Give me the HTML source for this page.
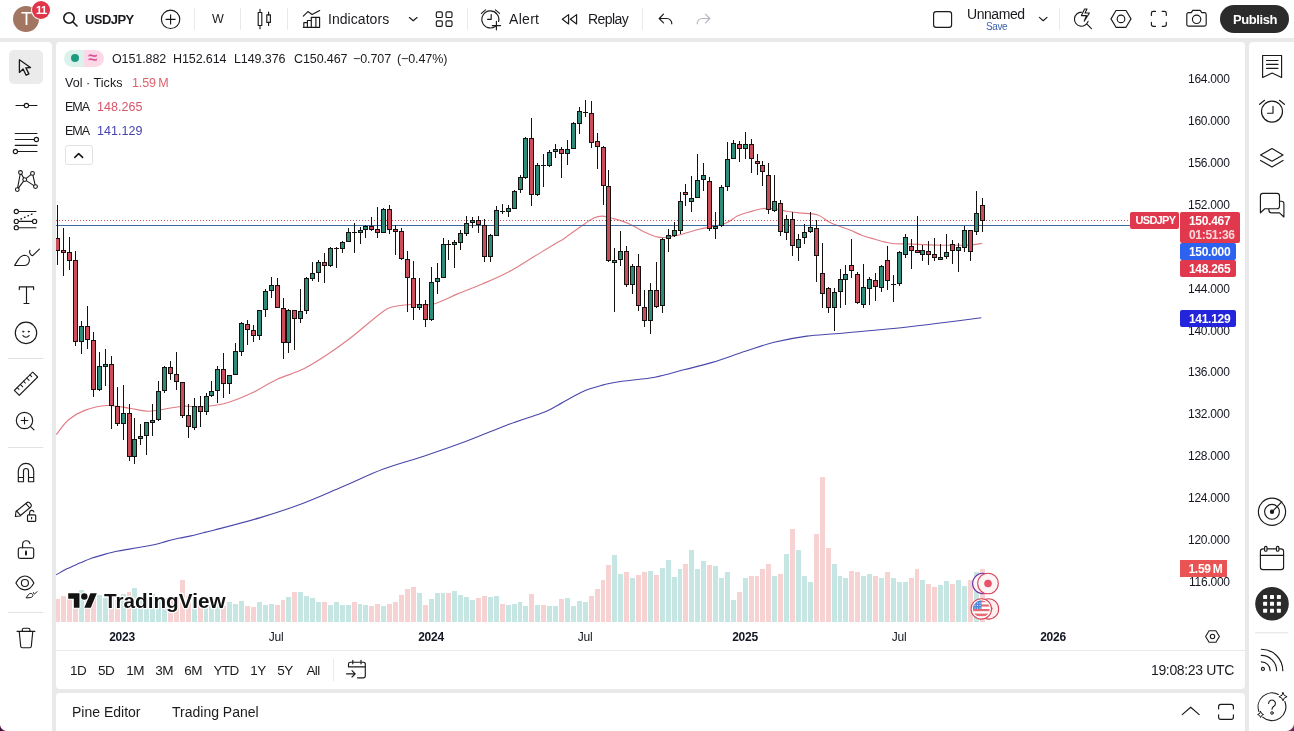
<!DOCTYPE html>
<html><head><meta charset="utf-8">
<style>
*{box-sizing:border-box;margin:0;padding:0}
html,body{width:1294px;height:731px;overflow:hidden;background:#e9e9ea;font-family:"Liberation Sans",sans-serif;color:#1b1b1f}
.abs{position:absolute}
#top{left:0;top:0;width:1294px;height:38px;background:#fff}
#left{left:0;top:42px;width:52px;height:689px;background:#fff;border-top-right-radius:4px}
#right{left:1249px;top:42px;width:45px;height:689px;background:#fff;border-top-left-radius:4px}
#chart{left:56px;top:42px;width:1189px;height:608px;background:#fff;border-radius:4px 4px 0 0}
#range{left:56px;top:650px;width:1189px;height:39px;background:#fff;border-top:1px solid #e9e9ea;border-radius:0 0 4px 4px}
#bottom{left:56px;top:693px;width:1189px;height:38px;background:#fff;border-radius:4px 4px 0 0}
.t{position:absolute;white-space:nowrap;line-height:1}
svg{position:absolute;left:0;top:0;overflow:visible}
</style></head><body>
<div id="top" class="abs"></div>
<div id="left" class="abs"></div>
<div id="right" class="abs"></div>
<div id="chart" class="abs"></div>
<div id="range" class="abs"></div>
<div id="bottom" class="abs"></div>
<!--CHARTSVG-->
<svg id="chartsvg" width="1294" height="731" viewBox="0 0 1294 731">
<defs><clipPath id="cp"><rect x="56" y="42" width="1124" height="580"/></clipPath></defs>
<g clip-path="url(#cp)" shape-rendering="crispEdges">
<rect x="55" y="599" width="5" height="23" fill="#f7d2d2"/>
<rect x="61" y="596" width="5" height="26" fill="#f7d2d2"/>
<rect x="67" y="599" width="5" height="23" fill="#f7d2d2"/>
<rect x="73" y="594" width="5" height="28" fill="#f7d2d2"/>
<rect x="79" y="590" width="5" height="32" fill="#c6e6e3"/>
<rect x="85" y="598" width="5" height="24" fill="#f7d2d2"/>
<rect x="91" y="595" width="5" height="27" fill="#f7d2d2"/>
<rect x="97" y="595" width="5" height="27" fill="#c6e6e3"/>
<rect x="103" y="598" width="5" height="24" fill="#c6e6e3"/>
<rect x="109" y="596" width="5" height="26" fill="#f7d2d2"/>
<rect x="115" y="600" width="5" height="22" fill="#f7d2d2"/>
<rect x="121" y="594" width="5" height="28" fill="#c6e6e3"/>
<rect x="127" y="592" width="4" height="30" fill="#f7d2d2"/>
<rect x="132" y="588" width="5" height="34" fill="#c6e6e3"/>
<rect x="138" y="600" width="5" height="22" fill="#c6e6e3"/>
<rect x="144" y="600" width="5" height="22" fill="#c6e6e3"/>
<rect x="150" y="594" width="5" height="28" fill="#c6e6e3"/>
<rect x="156" y="596" width="5" height="26" fill="#c6e6e3"/>
<rect x="162" y="598" width="5" height="24" fill="#c6e6e3"/>
<rect x="168" y="600" width="5" height="22" fill="#f7d2d2"/>
<rect x="174" y="598" width="5" height="24" fill="#f7d2d2"/>
<rect x="180" y="580" width="5" height="42" fill="#f7d2d2"/>
<rect x="186" y="596" width="5" height="26" fill="#f7d2d2"/>
<rect x="192" y="600" width="5" height="22" fill="#c6e6e3"/>
<rect x="198" y="602" width="5" height="20" fill="#f7d2d2"/>
<rect x="204" y="602" width="4" height="20" fill="#c6e6e3"/>
<rect x="209" y="603" width="5" height="19" fill="#c6e6e3"/>
<rect x="215" y="602" width="5" height="20" fill="#c6e6e3"/>
<rect x="221" y="606" width="5" height="16" fill="#f7d2d2"/>
<rect x="227" y="602" width="5" height="20" fill="#c6e6e3"/>
<rect x="233" y="604" width="5" height="18" fill="#c6e6e3"/>
<rect x="239" y="601" width="5" height="21" fill="#c6e6e3"/>
<rect x="245" y="606" width="5" height="16" fill="#f7d2d2"/>
<rect x="251" y="607" width="5" height="15" fill="#f7d2d2"/>
<rect x="257" y="602" width="5" height="20" fill="#c6e6e3"/>
<rect x="263" y="605" width="5" height="17" fill="#c6e6e3"/>
<rect x="269" y="604" width="5" height="18" fill="#c6e6e3"/>
<rect x="275" y="605" width="5" height="17" fill="#f7d2d2"/>
<rect x="281" y="600" width="4" height="22" fill="#f7d2d2"/>
<rect x="286" y="597" width="5" height="25" fill="#c6e6e3"/>
<rect x="292" y="592" width="5" height="30" fill="#f7d2d2"/>
<rect x="298" y="592" width="5" height="30" fill="#c6e6e3"/>
<rect x="304" y="596" width="5" height="26" fill="#c6e6e3"/>
<rect x="310" y="598" width="5" height="24" fill="#c6e6e3"/>
<rect x="316" y="602" width="5" height="20" fill="#c6e6e3"/>
<rect x="322" y="602" width="5" height="20" fill="#f7d2d2"/>
<rect x="328" y="605" width="5" height="17" fill="#c6e6e3"/>
<rect x="334" y="602" width="5" height="20" fill="#c6e6e3"/>
<rect x="340" y="605" width="5" height="17" fill="#c6e6e3"/>
<rect x="346" y="605" width="5" height="17" fill="#c6e6e3"/>
<rect x="352" y="602" width="5" height="20" fill="#f7d2d2"/>
<rect x="358" y="604" width="4" height="18" fill="#c6e6e3"/>
<rect x="363" y="605" width="5" height="17" fill="#c6e6e3"/>
<rect x="369" y="606" width="5" height="16" fill="#f7d2d2"/>
<rect x="375" y="604" width="5" height="18" fill="#f7d2d2"/>
<rect x="381" y="606" width="5" height="16" fill="#c6e6e3"/>
<rect x="387" y="604" width="5" height="18" fill="#f7d2d2"/>
<rect x="393" y="602" width="5" height="20" fill="#f7d2d2"/>
<rect x="399" y="595" width="5" height="27" fill="#f7d2d2"/>
<rect x="405" y="589" width="5" height="33" fill="#f7d2d2"/>
<rect x="411" y="587" width="5" height="35" fill="#f7d2d2"/>
<rect x="417" y="593" width="5" height="29" fill="#c6e6e3"/>
<rect x="423" y="605" width="5" height="17" fill="#f7d2d2"/>
<rect x="429" y="599" width="5" height="23" fill="#c6e6e3"/>
<rect x="435" y="593" width="5" height="29" fill="#c6e6e3"/>
<rect x="441" y="593" width="4" height="29" fill="#c6e6e3"/>
<rect x="446" y="593" width="5" height="29" fill="#f7d2d2"/>
<rect x="452" y="591" width="5" height="31" fill="#c6e6e3"/>
<rect x="458" y="595" width="5" height="27" fill="#c6e6e3"/>
<rect x="464" y="597" width="5" height="25" fill="#c6e6e3"/>
<rect x="470" y="600" width="5" height="22" fill="#c6e6e3"/>
<rect x="476" y="598" width="5" height="24" fill="#f7d2d2"/>
<rect x="482" y="596" width="5" height="26" fill="#f7d2d2"/>
<rect x="488" y="597" width="5" height="25" fill="#c6e6e3"/>
<rect x="494" y="596" width="5" height="26" fill="#c6e6e3"/>
<rect x="500" y="604" width="5" height="18" fill="#f7d2d2"/>
<rect x="506" y="605" width="5" height="17" fill="#c6e6e3"/>
<rect x="512" y="604" width="5" height="18" fill="#c6e6e3"/>
<rect x="518" y="602" width="4" height="20" fill="#c6e6e3"/>
<rect x="523" y="606" width="5" height="16" fill="#c6e6e3"/>
<rect x="529" y="594" width="5" height="28" fill="#f7d2d2"/>
<rect x="535" y="605" width="5" height="17" fill="#c6e6e3"/>
<rect x="541" y="605" width="5" height="17" fill="#f7d2d2"/>
<rect x="547" y="606" width="5" height="16" fill="#c6e6e3"/>
<rect x="553" y="606" width="5" height="16" fill="#c6e6e3"/>
<rect x="559" y="599" width="5" height="23" fill="#f7d2d2"/>
<rect x="565" y="598" width="5" height="24" fill="#c6e6e3"/>
<rect x="571" y="606" width="5" height="16" fill="#c6e6e3"/>
<rect x="577" y="601" width="5" height="21" fill="#c6e6e3"/>
<rect x="583" y="602" width="5" height="20" fill="#c6e6e3"/>
<rect x="589" y="596" width="5" height="26" fill="#f7d2d2"/>
<rect x="595" y="589" width="5" height="33" fill="#f7d2d2"/>
<rect x="601" y="580" width="4" height="42" fill="#f7d2d2"/>
<rect x="606" y="565" width="5" height="57" fill="#f7d2d2"/>
<rect x="612" y="555" width="5" height="67" fill="#c6e6e3"/>
<rect x="618" y="574" width="5" height="48" fill="#c6e6e3"/>
<rect x="624" y="572" width="5" height="50" fill="#f7d2d2"/>
<rect x="630" y="578" width="5" height="44" fill="#c6e6e3"/>
<rect x="636" y="575" width="5" height="47" fill="#f7d2d2"/>
<rect x="642" y="572" width="5" height="50" fill="#f7d2d2"/>
<rect x="648" y="571" width="5" height="51" fill="#c6e6e3"/>
<rect x="654" y="575" width="5" height="47" fill="#f7d2d2"/>
<rect x="660" y="568" width="5" height="54" fill="#c6e6e3"/>
<rect x="666" y="560" width="5" height="62" fill="#c6e6e3"/>
<rect x="672" y="577" width="5" height="45" fill="#c6e6e3"/>
<rect x="678" y="569" width="4" height="53" fill="#c6e6e3"/>
<rect x="683" y="564" width="5" height="58" fill="#f7d2d2"/>
<rect x="689" y="550" width="5" height="72" fill="#c6e6e3"/>
<rect x="695" y="569" width="5" height="53" fill="#c6e6e3"/>
<rect x="701" y="561" width="5" height="61" fill="#c6e6e3"/>
<rect x="707" y="565" width="5" height="57" fill="#f7d2d2"/>
<rect x="713" y="566" width="5" height="56" fill="#c6e6e3"/>
<rect x="719" y="578" width="5" height="44" fill="#c6e6e3"/>
<rect x="725" y="572" width="5" height="50" fill="#c6e6e3"/>
<rect x="731" y="600" width="5" height="22" fill="#c6e6e3"/>
<rect x="737" y="592" width="5" height="30" fill="#f7d2d2"/>
<rect x="743" y="578" width="5" height="44" fill="#c6e6e3"/>
<rect x="749" y="576" width="5" height="46" fill="#f7d2d2"/>
<rect x="755" y="576" width="4" height="46" fill="#f7d2d2"/>
<rect x="760" y="569" width="5" height="53" fill="#f7d2d2"/>
<rect x="766" y="564" width="5" height="58" fill="#f7d2d2"/>
<rect x="772" y="576" width="5" height="46" fill="#c6e6e3"/>
<rect x="778" y="574" width="5" height="48" fill="#f7d2d2"/>
<rect x="784" y="554" width="5" height="68" fill="#c6e6e3"/>
<rect x="790" y="529" width="5" height="93" fill="#f7d2d2"/>
<rect x="796" y="550" width="5" height="72" fill="#c6e6e3"/>
<rect x="802" y="576" width="5" height="46" fill="#c6e6e3"/>
<rect x="808" y="582" width="5" height="40" fill="#c6e6e3"/>
<rect x="814" y="534" width="5" height="88" fill="#f7d2d2"/>
<rect x="820" y="477" width="5" height="145" fill="#f7d2d2"/>
<rect x="826" y="548" width="5" height="74" fill="#f7d2d2"/>
<rect x="832" y="564" width="5" height="58" fill="#c6e6e3"/>
<rect x="838" y="576" width="4" height="46" fill="#c6e6e3"/>
<rect x="843" y="578" width="5" height="44" fill="#c6e6e3"/>
<rect x="849" y="571" width="5" height="51" fill="#f7d2d2"/>
<rect x="855" y="572" width="5" height="50" fill="#f7d2d2"/>
<rect x="861" y="576" width="5" height="46" fill="#c6e6e3"/>
<rect x="867" y="574" width="5" height="48" fill="#c6e6e3"/>
<rect x="873" y="576" width="5" height="46" fill="#f7d2d2"/>
<rect x="879" y="578" width="5" height="44" fill="#c6e6e3"/>
<rect x="885" y="572" width="5" height="50" fill="#f7d2d2"/>
<rect x="891" y="578" width="5" height="44" fill="#c6e6e3"/>
<rect x="897" y="582" width="5" height="40" fill="#c6e6e3"/>
<rect x="903" y="582" width="5" height="40" fill="#c6e6e3"/>
<rect x="909" y="578" width="5" height="44" fill="#f7d2d2"/>
<rect x="915" y="569" width="4" height="53" fill="#f7d2d2"/>
<rect x="920" y="580" width="5" height="42" fill="#c6e6e3"/>
<rect x="926" y="584" width="5" height="38" fill="#f7d2d2"/>
<rect x="932" y="587" width="5" height="35" fill="#f7d2d2"/>
<rect x="938" y="585" width="5" height="37" fill="#c6e6e3"/>
<rect x="944" y="581" width="5" height="41" fill="#c6e6e3"/>
<rect x="950" y="584" width="5" height="38" fill="#f7d2d2"/>
<rect x="956" y="580" width="5" height="42" fill="#c6e6e3"/>
<rect x="962" y="586" width="5" height="36" fill="#c6e6e3"/>
<rect x="968" y="580" width="5" height="42" fill="#f7d2d2"/>
<rect x="974" y="572" width="5" height="50" fill="#c6e6e3"/>
<rect x="980" y="569" width="5" height="53" fill="#f7d2d2"/>
</g>
<g clip-path="url(#cp)">
<path d="M56.2 574.8 C58.1 573.8 63.5 570.5 67.4 568.6 C71.3 566.7 75.6 564.9 79.7 563.1 C83.8 561.4 88.0 559.6 92.1 558.1 C96.2 556.6 100.4 555.5 104.5 554.4 C108.6 553.3 112.7 552.2 116.8 551.3 C120.9 550.4 125.1 549.8 129.2 549.1 C133.3 548.4 137.5 547.7 141.6 547.0 C145.7 546.3 149.8 545.7 153.9 544.8 C158.0 543.9 162.2 542.5 166.3 541.4 C170.4 540.3 174.5 539.2 178.6 538.3 C182.7 537.4 186.9 536.8 191.0 535.9 C195.1 535.0 199.5 533.8 203.4 532.8 C207.3 531.8 205.0 532.5 214.5 530.0 C224.0 527.5 245.8 521.9 260.3 517.6 C274.8 513.3 287.6 509.1 301.3 504.0 C315.0 498.9 328.7 492.6 342.4 486.8 C356.1 481.0 369.7 474.2 383.4 469.1 C397.1 464.0 410.8 460.6 424.5 456.0 C438.2 451.4 451.8 446.7 465.5 441.6 C479.2 436.5 494.2 429.9 506.6 425.2 C519.0 420.5 532.1 416.6 540.0 413.7 C547.9 410.8 547.0 411.1 553.8 407.5 C560.6 403.9 573.0 396.1 581.0 392.4 C589.0 388.7 594.8 387.2 601.6 385.4 C608.5 383.5 613.2 382.7 622.1 381.3 C631.0 379.9 644.6 379.1 654.9 377.2 C665.2 375.3 674.1 372.3 683.7 369.8 C693.3 367.3 702.1 365.5 712.4 362.4 C722.7 359.3 735.0 354.6 745.3 351.3 C755.6 348.0 763.8 344.8 774.0 342.3 C784.2 339.8 796.5 337.5 806.8 336.1 C817.1 334.7 825.3 334.6 835.6 333.7 C845.9 332.8 856.1 332.0 868.4 330.8 C880.7 329.6 895.8 328.2 909.5 326.7 C923.2 325.2 938.5 323.3 950.5 321.8 C962.5 320.3 976.2 318.4 981.3 317.7" fill="none" stroke="#4846aa" stroke-width="1.1" stroke-linejoin="round"/>
<path d="M56.2 434.7 C58.3 432.2 63.8 423.9 68.6 419.8 C73.3 415.8 78.3 412.8 84.7 410.4 C91.1 408.0 99.5 405.9 106.9 405.5 C114.3 405.1 122.2 407.2 129.2 408.2 C136.2 409.1 142.8 411.1 149.0 411.2 C155.2 411.3 160.5 409.5 166.3 408.7 C172.1 407.9 177.4 406.5 183.6 406.2 C189.8 405.9 196.0 407.3 203.4 406.7 C210.8 406.1 219.9 404.9 228.1 402.5 C236.3 400.1 244.6 396.5 252.8 392.6 C261.1 388.7 269.4 382.8 277.6 379.0 C285.9 375.2 294.1 373.6 302.3 369.6 C310.5 365.6 318.8 360.2 327.0 354.8 C335.2 349.4 342.3 344.3 351.7 337.0 C361.1 329.7 376.1 316.3 383.4 311.2 C390.7 306.1 390.8 307.3 395.7 306.2 C400.6 305.1 406.8 304.8 413.0 304.5 C419.2 304.2 425.4 306.0 432.8 304.2 C440.2 302.4 449.4 297.3 457.6 293.9 C465.9 290.5 474.1 287.5 482.3 284.0 C490.5 280.5 498.8 277.1 507.0 272.8 C515.2 268.5 523.9 262.7 531.7 258.0 C539.5 253.3 548.6 247.7 554.0 244.4 C559.4 241.1 559.6 241.5 564.2 238.4 C568.8 235.3 576.5 229.4 581.5 226.0 C586.5 222.6 590.4 219.8 593.9 218.1 C597.4 216.4 599.2 216.0 602.5 216.1 C605.8 216.2 609.3 217.4 613.6 218.6 C617.9 219.8 623.5 221.4 628.5 223.5 C633.5 225.6 638.4 229.1 643.3 231.4 C648.2 233.7 654.0 236.2 658.1 237.1 C662.2 238.0 664.3 237.5 668.0 237.1 C671.7 236.7 675.0 236.0 680.4 234.7 C685.8 233.3 692.8 230.9 700.2 229.0 C707.6 227.1 718.7 225.7 724.9 223.5 C731.1 221.3 733.2 218.0 737.3 216.1 C741.4 214.2 745.5 213.1 749.6 211.9 C753.7 210.7 757.9 209.2 762.0 208.7 C766.1 208.2 770.3 208.3 774.4 208.7 C778.5 209.1 782.6 210.5 786.7 211.2 C790.8 211.9 794.0 212.3 799.1 212.9 C804.2 213.5 812.2 213.2 817.3 214.8 C822.4 216.4 825.5 220.2 829.6 222.3 C833.7 224.4 838.6 225.9 842.0 227.2 C845.4 228.5 846.6 228.6 850.0 230.0 C853.4 231.4 858.3 234.0 862.4 235.5 C866.5 237.0 870.0 237.9 874.7 239.2 C879.4 240.5 885.6 242.4 890.8 243.2 C895.9 244.0 900.0 243.7 905.6 243.9 C911.2 244.1 918.0 244.4 924.2 244.6 C930.4 244.8 936.5 245.1 942.7 245.2 C948.9 245.3 956.1 245.3 961.3 245.2 C966.4 245.1 970.1 244.9 973.6 244.6 C977.1 244.3 980.8 243.4 982.3 243.2" fill="none" stroke="#e07e86" stroke-width="1.15" stroke-linejoin="round"/>
</g>
<g shape-rendering="crispEdges">
<line x1="56" x2="1130" y1="225.5" y2="225.5" stroke="#3f6a9c" stroke-width="1"/>
<line x1="56" x2="1130" y1="220.5" y2="220.5" stroke="#d0505c" stroke-width="1" stroke-dasharray="1 2"/>
</g>
<g clip-path="url(#cp)" shape-rendering="crispEdges">
<rect x="57" y="205" width="1" height="60" fill="#15110f"/>
<rect x="55" y="238" width="5" height="13" fill="#15110f"/>
<rect x="56" y="239" width="3" height="11" fill="#cb4d5b"/>
<rect x="63" y="228" width="1" height="48" fill="#15110f"/>
<rect x="61" y="250" width="5" height="3" fill="#15110f"/>
<rect x="62" y="251" width="3" height="1" fill="#cb4d5b"/>
<rect x="69" y="237" width="1" height="33" fill="#15110f"/>
<rect x="67" y="252" width="5" height="9" fill="#15110f"/>
<rect x="68" y="253" width="3" height="7" fill="#cb4d5b"/>
<rect x="75" y="251" width="1" height="95" fill="#15110f"/>
<rect x="73" y="260" width="5" height="82" fill="#15110f"/>
<rect x="74" y="261" width="3" height="80" fill="#cb4d5b"/>
<rect x="81" y="321" width="1" height="33" fill="#15110f"/>
<rect x="79" y="326" width="5" height="16" fill="#15110f"/>
<rect x="80" y="327" width="3" height="14" fill="#2f8b79"/>
<rect x="87" y="306" width="1" height="43" fill="#15110f"/>
<rect x="85" y="326" width="5" height="14" fill="#15110f"/>
<rect x="86" y="327" width="3" height="12" fill="#cb4d5b"/>
<rect x="93" y="332" width="1" height="65" fill="#15110f"/>
<rect x="91" y="340" width="5" height="50" fill="#15110f"/>
<rect x="92" y="341" width="3" height="48" fill="#cb4d5b"/>
<rect x="99" y="352" width="1" height="39" fill="#15110f"/>
<rect x="97" y="366" width="5" height="24" fill="#15110f"/>
<rect x="98" y="367" width="3" height="22" fill="#2f8b79"/>
<rect x="105" y="349" width="1" height="37" fill="#15110f"/>
<rect x="103" y="364" width="5" height="3" fill="#15110f"/>
<rect x="104" y="365" width="3" height="1" fill="#2f8b79"/>
<rect x="111" y="356" width="1" height="73" fill="#15110f"/>
<rect x="109" y="364" width="5" height="42" fill="#15110f"/>
<rect x="110" y="365" width="3" height="40" fill="#cb4d5b"/>
<rect x="117" y="387" width="1" height="39" fill="#15110f"/>
<rect x="115" y="406" width="5" height="18" fill="#15110f"/>
<rect x="116" y="407" width="3" height="16" fill="#cb4d5b"/>
<rect x="123" y="385" width="1" height="55" fill="#15110f"/>
<rect x="121" y="413" width="5" height="11" fill="#15110f"/>
<rect x="122" y="414" width="3" height="9" fill="#2f8b79"/>
<rect x="129" y="404" width="1" height="57" fill="#15110f"/>
<rect x="127" y="413" width="5" height="44" fill="#15110f"/>
<rect x="128" y="414" width="3" height="42" fill="#cb4d5b"/>
<rect x="134" y="418" width="1" height="46" fill="#15110f"/>
<rect x="132" y="439" width="5" height="18" fill="#15110f"/>
<rect x="133" y="440" width="3" height="16" fill="#2f8b79"/>
<rect x="140" y="424" width="1" height="21" fill="#15110f"/>
<rect x="138" y="436" width="5" height="3" fill="#15110f"/>
<rect x="139" y="437" width="3" height="1" fill="#2f8b79"/>
<rect x="146" y="422" width="1" height="33" fill="#15110f"/>
<rect x="144" y="422" width="5" height="14" fill="#15110f"/>
<rect x="145" y="423" width="3" height="12" fill="#2f8b79"/>
<rect x="152" y="404" width="1" height="32" fill="#15110f"/>
<rect x="150" y="420" width="5" height="3" fill="#15110f"/>
<rect x="151" y="421" width="3" height="1" fill="#2f8b79"/>
<rect x="158" y="381" width="1" height="40" fill="#15110f"/>
<rect x="156" y="391" width="5" height="29" fill="#15110f"/>
<rect x="157" y="392" width="3" height="27" fill="#2f8b79"/>
<rect x="164" y="366" width="1" height="27" fill="#15110f"/>
<rect x="162" y="367" width="5" height="24" fill="#15110f"/>
<rect x="163" y="368" width="3" height="22" fill="#2f8b79"/>
<rect x="170" y="361" width="1" height="19" fill="#15110f"/>
<rect x="168" y="367" width="5" height="7" fill="#15110f"/>
<rect x="169" y="368" width="3" height="5" fill="#cb4d5b"/>
<rect x="176" y="352" width="1" height="38" fill="#15110f"/>
<rect x="174" y="374" width="5" height="8" fill="#15110f"/>
<rect x="175" y="375" width="3" height="6" fill="#cb4d5b"/>
<rect x="182" y="382" width="1" height="36" fill="#15110f"/>
<rect x="180" y="382" width="5" height="34" fill="#15110f"/>
<rect x="181" y="383" width="3" height="32" fill="#cb4d5b"/>
<rect x="188" y="404" width="1" height="34" fill="#15110f"/>
<rect x="186" y="415" width="5" height="12" fill="#15110f"/>
<rect x="187" y="416" width="3" height="10" fill="#cb4d5b"/>
<rect x="194" y="398" width="1" height="32" fill="#15110f"/>
<rect x="192" y="406" width="5" height="22" fill="#15110f"/>
<rect x="193" y="407" width="3" height="20" fill="#2f8b79"/>
<rect x="200" y="396" width="1" height="31" fill="#15110f"/>
<rect x="198" y="406" width="5" height="6" fill="#15110f"/>
<rect x="199" y="407" width="3" height="4" fill="#cb4d5b"/>
<rect x="206" y="393" width="1" height="22" fill="#15110f"/>
<rect x="204" y="396" width="5" height="16" fill="#15110f"/>
<rect x="205" y="397" width="3" height="14" fill="#2f8b79"/>
<rect x="211" y="381" width="1" height="16" fill="#15110f"/>
<rect x="209" y="391" width="5" height="5" fill="#15110f"/>
<rect x="210" y="392" width="3" height="3" fill="#2f8b79"/>
<rect x="217" y="366" width="1" height="37" fill="#15110f"/>
<rect x="215" y="369" width="5" height="22" fill="#15110f"/>
<rect x="216" y="370" width="3" height="20" fill="#2f8b79"/>
<rect x="223" y="353" width="1" height="45" fill="#15110f"/>
<rect x="221" y="369" width="5" height="15" fill="#15110f"/>
<rect x="222" y="370" width="3" height="13" fill="#cb4d5b"/>
<rect x="229" y="375" width="1" height="19" fill="#15110f"/>
<rect x="227" y="375" width="5" height="9" fill="#15110f"/>
<rect x="228" y="376" width="3" height="7" fill="#2f8b79"/>
<rect x="235" y="343" width="1" height="32" fill="#15110f"/>
<rect x="233" y="351" width="5" height="24" fill="#15110f"/>
<rect x="234" y="352" width="3" height="22" fill="#2f8b79"/>
<rect x="241" y="322" width="1" height="34" fill="#15110f"/>
<rect x="239" y="323" width="5" height="29" fill="#15110f"/>
<rect x="240" y="324" width="3" height="27" fill="#2f8b79"/>
<rect x="247" y="320" width="1" height="25" fill="#15110f"/>
<rect x="245" y="324" width="5" height="6" fill="#15110f"/>
<rect x="246" y="325" width="3" height="4" fill="#cb4d5b"/>
<rect x="253" y="325" width="1" height="17" fill="#15110f"/>
<rect x="251" y="330" width="5" height="6" fill="#15110f"/>
<rect x="252" y="331" width="3" height="4" fill="#cb4d5b"/>
<rect x="259" y="310" width="1" height="30" fill="#15110f"/>
<rect x="257" y="310" width="5" height="26" fill="#15110f"/>
<rect x="258" y="311" width="3" height="24" fill="#2f8b79"/>
<rect x="265" y="289" width="1" height="28" fill="#15110f"/>
<rect x="263" y="291" width="5" height="19" fill="#15110f"/>
<rect x="264" y="292" width="3" height="17" fill="#2f8b79"/>
<rect x="271" y="277" width="1" height="21" fill="#15110f"/>
<rect x="269" y="285" width="5" height="6" fill="#15110f"/>
<rect x="270" y="286" width="3" height="4" fill="#2f8b79"/>
<rect x="277" y="278" width="1" height="30" fill="#15110f"/>
<rect x="275" y="285" width="5" height="23" fill="#15110f"/>
<rect x="276" y="286" width="3" height="21" fill="#cb4d5b"/>
<rect x="283" y="298" width="1" height="61" fill="#15110f"/>
<rect x="281" y="308" width="5" height="35" fill="#15110f"/>
<rect x="282" y="309" width="3" height="33" fill="#cb4d5b"/>
<rect x="288" y="309" width="1" height="44" fill="#15110f"/>
<rect x="286" y="310" width="5" height="33" fill="#15110f"/>
<rect x="287" y="311" width="3" height="31" fill="#2f8b79"/>
<rect x="294" y="310" width="1" height="40" fill="#15110f"/>
<rect x="292" y="310" width="5" height="9" fill="#15110f"/>
<rect x="293" y="311" width="3" height="7" fill="#cb4d5b"/>
<rect x="300" y="289" width="1" height="34" fill="#15110f"/>
<rect x="298" y="311" width="5" height="8" fill="#15110f"/>
<rect x="299" y="312" width="3" height="6" fill="#2f8b79"/>
<rect x="306" y="277" width="1" height="37" fill="#15110f"/>
<rect x="304" y="278" width="5" height="33" fill="#15110f"/>
<rect x="305" y="279" width="3" height="31" fill="#2f8b79"/>
<rect x="312" y="262" width="1" height="19" fill="#15110f"/>
<rect x="310" y="273" width="5" height="6" fill="#15110f"/>
<rect x="311" y="274" width="3" height="4" fill="#2f8b79"/>
<rect x="318" y="260" width="1" height="22" fill="#15110f"/>
<rect x="316" y="262" width="5" height="11" fill="#15110f"/>
<rect x="317" y="263" width="3" height="9" fill="#2f8b79"/>
<rect x="324" y="253" width="1" height="30" fill="#15110f"/>
<rect x="322" y="262" width="5" height="4" fill="#15110f"/>
<rect x="323" y="263" width="3" height="2" fill="#cb4d5b"/>
<rect x="330" y="247" width="1" height="20" fill="#15110f"/>
<rect x="328" y="248" width="5" height="18" fill="#15110f"/>
<rect x="329" y="249" width="3" height="16" fill="#2f8b79"/>
<rect x="336" y="247" width="1" height="21" fill="#15110f"/>
<rect x="334" y="248" width="5" height="1" fill="#15110f"/>
<rect x="342" y="241" width="1" height="12" fill="#15110f"/>
<rect x="340" y="242" width="5" height="7" fill="#15110f"/>
<rect x="341" y="243" width="3" height="5" fill="#2f8b79"/>
<rect x="348" y="228" width="1" height="14" fill="#15110f"/>
<rect x="346" y="232" width="5" height="10" fill="#15110f"/>
<rect x="347" y="233" width="3" height="8" fill="#2f8b79"/>
<rect x="354" y="223" width="1" height="30" fill="#15110f"/>
<rect x="352" y="232" width="5" height="1" fill="#15110f"/>
<rect x="360" y="227" width="1" height="17" fill="#15110f"/>
<rect x="358" y="230" width="5" height="3" fill="#15110f"/>
<rect x="359" y="231" width="3" height="1" fill="#2f8b79"/>
<rect x="365" y="225" width="1" height="13" fill="#15110f"/>
<rect x="363" y="226" width="5" height="4" fill="#15110f"/>
<rect x="364" y="227" width="3" height="2" fill="#2f8b79"/>
<rect x="371" y="217" width="1" height="14" fill="#15110f"/>
<rect x="369" y="226" width="5" height="4" fill="#15110f"/>
<rect x="370" y="227" width="3" height="2" fill="#cb4d5b"/>
<rect x="377" y="207" width="1" height="31" fill="#15110f"/>
<rect x="375" y="229" width="5" height="4" fill="#15110f"/>
<rect x="376" y="230" width="3" height="2" fill="#cb4d5b"/>
<rect x="383" y="208" width="1" height="25" fill="#15110f"/>
<rect x="381" y="209" width="5" height="24" fill="#15110f"/>
<rect x="382" y="210" width="3" height="22" fill="#2f8b79"/>
<rect x="389" y="205" width="1" height="29" fill="#15110f"/>
<rect x="387" y="209" width="5" height="21" fill="#15110f"/>
<rect x="388" y="210" width="3" height="19" fill="#cb4d5b"/>
<rect x="395" y="225" width="1" height="30" fill="#15110f"/>
<rect x="393" y="229" width="5" height="3" fill="#15110f"/>
<rect x="394" y="230" width="3" height="1" fill="#cb4d5b"/>
<rect x="401" y="228" width="1" height="32" fill="#15110f"/>
<rect x="399" y="231" width="5" height="28" fill="#15110f"/>
<rect x="400" y="232" width="3" height="26" fill="#cb4d5b"/>
<rect x="407" y="251" width="1" height="61" fill="#15110f"/>
<rect x="405" y="259" width="5" height="19" fill="#15110f"/>
<rect x="406" y="260" width="3" height="17" fill="#cb4d5b"/>
<rect x="413" y="261" width="1" height="59" fill="#15110f"/>
<rect x="411" y="278" width="5" height="30" fill="#15110f"/>
<rect x="412" y="279" width="3" height="28" fill="#cb4d5b"/>
<rect x="419" y="278" width="1" height="32" fill="#15110f"/>
<rect x="417" y="304" width="5" height="4" fill="#15110f"/>
<rect x="418" y="305" width="3" height="2" fill="#2f8b79"/>
<rect x="425" y="300" width="1" height="27" fill="#15110f"/>
<rect x="423" y="304" width="5" height="16" fill="#15110f"/>
<rect x="424" y="305" width="3" height="14" fill="#cb4d5b"/>
<rect x="431" y="267" width="1" height="54" fill="#15110f"/>
<rect x="429" y="282" width="5" height="38" fill="#15110f"/>
<rect x="430" y="283" width="3" height="36" fill="#2f8b79"/>
<rect x="437" y="263" width="1" height="31" fill="#15110f"/>
<rect x="435" y="278" width="5" height="4" fill="#15110f"/>
<rect x="436" y="279" width="3" height="2" fill="#2f8b79"/>
<rect x="443" y="238" width="1" height="40" fill="#15110f"/>
<rect x="441" y="244" width="5" height="34" fill="#15110f"/>
<rect x="442" y="245" width="3" height="32" fill="#2f8b79"/>
<rect x="448" y="240" width="1" height="20" fill="#15110f"/>
<rect x="446" y="244" width="5" height="1" fill="#15110f"/>
<rect x="454" y="240" width="1" height="28" fill="#15110f"/>
<rect x="452" y="242" width="5" height="3" fill="#15110f"/>
<rect x="453" y="243" width="3" height="1" fill="#2f8b79"/>
<rect x="460" y="230" width="1" height="20" fill="#15110f"/>
<rect x="458" y="233" width="5" height="10" fill="#15110f"/>
<rect x="459" y="234" width="3" height="8" fill="#2f8b79"/>
<rect x="466" y="216" width="1" height="20" fill="#15110f"/>
<rect x="464" y="223" width="5" height="11" fill="#15110f"/>
<rect x="465" y="224" width="3" height="9" fill="#2f8b79"/>
<rect x="472" y="217" width="1" height="11" fill="#15110f"/>
<rect x="470" y="220" width="5" height="3" fill="#15110f"/>
<rect x="471" y="221" width="3" height="1" fill="#2f8b79"/>
<rect x="478" y="216" width="1" height="17" fill="#15110f"/>
<rect x="476" y="220" width="5" height="5" fill="#15110f"/>
<rect x="477" y="221" width="3" height="3" fill="#cb4d5b"/>
<rect x="484" y="219" width="1" height="43" fill="#15110f"/>
<rect x="482" y="225" width="5" height="32" fill="#15110f"/>
<rect x="483" y="226" width="3" height="30" fill="#cb4d5b"/>
<rect x="490" y="234" width="1" height="28" fill="#15110f"/>
<rect x="488" y="235" width="5" height="22" fill="#15110f"/>
<rect x="489" y="236" width="3" height="20" fill="#2f8b79"/>
<rect x="496" y="206" width="1" height="30" fill="#15110f"/>
<rect x="494" y="210" width="5" height="26" fill="#15110f"/>
<rect x="495" y="211" width="3" height="24" fill="#2f8b79"/>
<rect x="502" y="204" width="1" height="10" fill="#15110f"/>
<rect x="500" y="211" width="5" height="1" fill="#15110f"/>
<rect x="508" y="205" width="1" height="12" fill="#15110f"/>
<rect x="506" y="208" width="5" height="4" fill="#15110f"/>
<rect x="507" y="209" width="3" height="2" fill="#2f8b79"/>
<rect x="514" y="190" width="1" height="19" fill="#15110f"/>
<rect x="512" y="191" width="5" height="18" fill="#15110f"/>
<rect x="513" y="192" width="3" height="16" fill="#2f8b79"/>
<rect x="520" y="175" width="1" height="18" fill="#15110f"/>
<rect x="518" y="177" width="5" height="13" fill="#15110f"/>
<rect x="519" y="178" width="3" height="11" fill="#2f8b79"/>
<rect x="525" y="137" width="1" height="42" fill="#15110f"/>
<rect x="523" y="138" width="5" height="40" fill="#15110f"/>
<rect x="524" y="139" width="3" height="38" fill="#2f8b79"/>
<rect x="531" y="118" width="1" height="88" fill="#15110f"/>
<rect x="529" y="138" width="5" height="57" fill="#15110f"/>
<rect x="530" y="139" width="3" height="55" fill="#cb4d5b"/>
<rect x="537" y="163" width="1" height="33" fill="#15110f"/>
<rect x="535" y="165" width="5" height="30" fill="#15110f"/>
<rect x="536" y="166" width="3" height="28" fill="#2f8b79"/>
<rect x="543" y="154" width="1" height="33" fill="#15110f"/>
<rect x="541" y="165" width="5" height="1" fill="#15110f"/>
<rect x="549" y="150" width="1" height="17" fill="#15110f"/>
<rect x="547" y="152" width="5" height="14" fill="#15110f"/>
<rect x="548" y="153" width="3" height="12" fill="#2f8b79"/>
<rect x="555" y="144" width="1" height="14" fill="#15110f"/>
<rect x="553" y="149" width="5" height="3" fill="#15110f"/>
<rect x="554" y="150" width="3" height="1" fill="#2f8b79"/>
<rect x="561" y="147" width="1" height="31" fill="#15110f"/>
<rect x="559" y="149" width="5" height="5" fill="#15110f"/>
<rect x="560" y="150" width="3" height="3" fill="#cb4d5b"/>
<rect x="567" y="140" width="1" height="25" fill="#15110f"/>
<rect x="565" y="149" width="5" height="5" fill="#15110f"/>
<rect x="566" y="150" width="3" height="3" fill="#2f8b79"/>
<rect x="573" y="122" width="1" height="27" fill="#15110f"/>
<rect x="571" y="123" width="5" height="26" fill="#15110f"/>
<rect x="572" y="124" width="3" height="24" fill="#2f8b79"/>
<rect x="579" y="107" width="1" height="27" fill="#15110f"/>
<rect x="577" y="111" width="5" height="13" fill="#15110f"/>
<rect x="578" y="112" width="3" height="11" fill="#2f8b79"/>
<rect x="585" y="100" width="1" height="17" fill="#15110f"/>
<rect x="583" y="112" width="5" height="1" fill="#15110f"/>
<rect x="591" y="101" width="1" height="47" fill="#15110f"/>
<rect x="589" y="113" width="5" height="30" fill="#15110f"/>
<rect x="590" y="114" width="3" height="28" fill="#cb4d5b"/>
<rect x="597" y="133" width="1" height="36" fill="#15110f"/>
<rect x="595" y="141" width="5" height="6" fill="#15110f"/>
<rect x="596" y="142" width="3" height="4" fill="#cb4d5b"/>
<rect x="603" y="146" width="1" height="59" fill="#15110f"/>
<rect x="601" y="147" width="5" height="39" fill="#15110f"/>
<rect x="602" y="148" width="3" height="37" fill="#cb4d5b"/>
<rect x="608" y="170" width="1" height="92" fill="#15110f"/>
<rect x="606" y="186" width="5" height="75" fill="#15110f"/>
<rect x="607" y="187" width="3" height="73" fill="#cb4d5b"/>
<rect x="614" y="248" width="1" height="64" fill="#15110f"/>
<rect x="612" y="260" width="5" height="3" fill="#15110f"/>
<rect x="613" y="261" width="3" height="1" fill="#2f8b79"/>
<rect x="620" y="231" width="1" height="35" fill="#15110f"/>
<rect x="618" y="251" width="5" height="9" fill="#15110f"/>
<rect x="619" y="252" width="3" height="7" fill="#2f8b79"/>
<rect x="626" y="246" width="1" height="41" fill="#15110f"/>
<rect x="624" y="251" width="5" height="34" fill="#15110f"/>
<rect x="625" y="252" width="3" height="32" fill="#cb4d5b"/>
<rect x="632" y="264" width="1" height="30" fill="#15110f"/>
<rect x="630" y="266" width="5" height="19" fill="#15110f"/>
<rect x="631" y="267" width="3" height="17" fill="#2f8b79"/>
<rect x="638" y="254" width="1" height="57" fill="#15110f"/>
<rect x="636" y="266" width="5" height="40" fill="#15110f"/>
<rect x="637" y="267" width="3" height="38" fill="#cb4d5b"/>
<rect x="644" y="290" width="1" height="37" fill="#15110f"/>
<rect x="642" y="307" width="5" height="14" fill="#15110f"/>
<rect x="643" y="308" width="3" height="12" fill="#cb4d5b"/>
<rect x="650" y="283" width="1" height="51" fill="#15110f"/>
<rect x="648" y="290" width="5" height="31" fill="#15110f"/>
<rect x="649" y="291" width="3" height="29" fill="#2f8b79"/>
<rect x="656" y="262" width="1" height="46" fill="#15110f"/>
<rect x="654" y="290" width="5" height="17" fill="#15110f"/>
<rect x="655" y="291" width="3" height="15" fill="#cb4d5b"/>
<rect x="662" y="238" width="1" height="75" fill="#15110f"/>
<rect x="660" y="239" width="5" height="67" fill="#15110f"/>
<rect x="661" y="240" width="3" height="65" fill="#2f8b79"/>
<rect x="668" y="229" width="1" height="23" fill="#15110f"/>
<rect x="666" y="235" width="5" height="4" fill="#15110f"/>
<rect x="667" y="236" width="3" height="2" fill="#2f8b79"/>
<rect x="674" y="222" width="1" height="15" fill="#15110f"/>
<rect x="672" y="230" width="5" height="6" fill="#15110f"/>
<rect x="673" y="231" width="3" height="4" fill="#2f8b79"/>
<rect x="680" y="192" width="1" height="42" fill="#15110f"/>
<rect x="678" y="201" width="5" height="30" fill="#15110f"/>
<rect x="679" y="202" width="3" height="28" fill="#2f8b79"/>
<rect x="685" y="184" width="1" height="22" fill="#15110f"/>
<rect x="683" y="192" width="5" height="3" fill="#15110f"/>
<rect x="684" y="193" width="3" height="1" fill="#cb4d5b"/>
<rect x="691" y="176" width="1" height="36" fill="#15110f"/>
<rect x="689" y="198" width="5" height="4" fill="#15110f"/>
<rect x="690" y="199" width="3" height="2" fill="#2f8b79"/>
<rect x="697" y="154" width="1" height="44" fill="#15110f"/>
<rect x="695" y="180" width="5" height="18" fill="#15110f"/>
<rect x="696" y="181" width="3" height="16" fill="#2f8b79"/>
<rect x="703" y="163" width="1" height="28" fill="#15110f"/>
<rect x="701" y="175" width="5" height="5" fill="#15110f"/>
<rect x="702" y="176" width="3" height="3" fill="#2f8b79"/>
<rect x="709" y="177" width="1" height="54" fill="#15110f"/>
<rect x="707" y="181" width="5" height="48" fill="#15110f"/>
<rect x="708" y="182" width="3" height="46" fill="#cb4d5b"/>
<rect x="715" y="212" width="1" height="27" fill="#15110f"/>
<rect x="713" y="226" width="5" height="3" fill="#15110f"/>
<rect x="714" y="227" width="3" height="1" fill="#2f8b79"/>
<rect x="721" y="185" width="1" height="42" fill="#15110f"/>
<rect x="719" y="187" width="5" height="39" fill="#15110f"/>
<rect x="720" y="188" width="3" height="37" fill="#2f8b79"/>
<rect x="727" y="142" width="1" height="49" fill="#15110f"/>
<rect x="725" y="159" width="5" height="28" fill="#15110f"/>
<rect x="726" y="160" width="3" height="26" fill="#2f8b79"/>
<rect x="733" y="140" width="1" height="19" fill="#15110f"/>
<rect x="731" y="143" width="5" height="16" fill="#15110f"/>
<rect x="732" y="144" width="3" height="14" fill="#2f8b79"/>
<rect x="739" y="141" width="1" height="21" fill="#15110f"/>
<rect x="737" y="144" width="5" height="5" fill="#15110f"/>
<rect x="738" y="145" width="3" height="3" fill="#cb4d5b"/>
<rect x="745" y="132" width="1" height="27" fill="#15110f"/>
<rect x="743" y="144" width="5" height="5" fill="#15110f"/>
<rect x="744" y="145" width="3" height="3" fill="#2f8b79"/>
<rect x="751" y="139" width="1" height="34" fill="#15110f"/>
<rect x="749" y="144" width="5" height="15" fill="#15110f"/>
<rect x="750" y="145" width="3" height="13" fill="#cb4d5b"/>
<rect x="757" y="154" width="1" height="21" fill="#15110f"/>
<rect x="755" y="161" width="5" height="3" fill="#15110f"/>
<rect x="756" y="162" width="3" height="1" fill="#cb4d5b"/>
<rect x="762" y="161" width="1" height="25" fill="#15110f"/>
<rect x="760" y="165" width="5" height="7" fill="#15110f"/>
<rect x="761" y="166" width="3" height="5" fill="#cb4d5b"/>
<rect x="768" y="163" width="1" height="51" fill="#15110f"/>
<rect x="766" y="175" width="5" height="35" fill="#15110f"/>
<rect x="767" y="176" width="3" height="33" fill="#cb4d5b"/>
<rect x="774" y="175" width="1" height="37" fill="#15110f"/>
<rect x="772" y="201" width="5" height="10" fill="#15110f"/>
<rect x="773" y="202" width="3" height="8" fill="#2f8b79"/>
<rect x="780" y="200" width="1" height="36" fill="#15110f"/>
<rect x="778" y="203" width="5" height="29" fill="#15110f"/>
<rect x="779" y="204" width="3" height="27" fill="#cb4d5b"/>
<rect x="786" y="215" width="1" height="25" fill="#15110f"/>
<rect x="784" y="219" width="5" height="14" fill="#15110f"/>
<rect x="785" y="220" width="3" height="12" fill="#2f8b79"/>
<rect x="792" y="212" width="1" height="44" fill="#15110f"/>
<rect x="790" y="219" width="5" height="27" fill="#15110f"/>
<rect x="791" y="220" width="3" height="25" fill="#cb4d5b"/>
<rect x="798" y="234" width="1" height="27" fill="#15110f"/>
<rect x="796" y="239" width="5" height="9" fill="#15110f"/>
<rect x="797" y="240" width="3" height="7" fill="#2f8b79"/>
<rect x="804" y="224" width="1" height="20" fill="#15110f"/>
<rect x="802" y="232" width="5" height="6" fill="#15110f"/>
<rect x="803" y="233" width="3" height="4" fill="#2f8b79"/>
<rect x="810" y="212" width="1" height="21" fill="#15110f"/>
<rect x="808" y="227" width="5" height="5" fill="#15110f"/>
<rect x="809" y="228" width="3" height="3" fill="#2f8b79"/>
<rect x="816" y="220" width="1" height="62" fill="#15110f"/>
<rect x="814" y="228" width="5" height="28" fill="#15110f"/>
<rect x="815" y="229" width="3" height="26" fill="#cb4d5b"/>
<rect x="822" y="243" width="1" height="65" fill="#15110f"/>
<rect x="820" y="273" width="5" height="21" fill="#15110f"/>
<rect x="821" y="274" width="3" height="19" fill="#cb4d5b"/>
<rect x="828" y="287" width="1" height="26" fill="#15110f"/>
<rect x="826" y="288" width="5" height="20" fill="#15110f"/>
<rect x="827" y="289" width="3" height="18" fill="#cb4d5b"/>
<rect x="834" y="288" width="1" height="43" fill="#15110f"/>
<rect x="832" y="292" width="5" height="16" fill="#15110f"/>
<rect x="833" y="293" width="3" height="14" fill="#2f8b79"/>
<rect x="840" y="269" width="1" height="39" fill="#15110f"/>
<rect x="838" y="279" width="5" height="13" fill="#15110f"/>
<rect x="839" y="280" width="3" height="11" fill="#2f8b79"/>
<rect x="845" y="265" width="1" height="40" fill="#15110f"/>
<rect x="843" y="274" width="5" height="6" fill="#15110f"/>
<rect x="844" y="275" width="3" height="4" fill="#2f8b79"/>
<rect x="851" y="239" width="1" height="39" fill="#15110f"/>
<rect x="849" y="265" width="5" height="6" fill="#15110f"/>
<rect x="850" y="266" width="3" height="4" fill="#cb4d5b"/>
<rect x="857" y="272" width="1" height="32" fill="#15110f"/>
<rect x="855" y="274" width="5" height="29" fill="#15110f"/>
<rect x="856" y="275" width="3" height="27" fill="#cb4d5b"/>
<rect x="863" y="264" width="1" height="44" fill="#15110f"/>
<rect x="861" y="287" width="5" height="18" fill="#15110f"/>
<rect x="862" y="288" width="3" height="16" fill="#2f8b79"/>
<rect x="869" y="277" width="1" height="28" fill="#15110f"/>
<rect x="867" y="279" width="5" height="10" fill="#15110f"/>
<rect x="868" y="280" width="3" height="8" fill="#2f8b79"/>
<rect x="875" y="273" width="1" height="28" fill="#15110f"/>
<rect x="873" y="280" width="5" height="7" fill="#15110f"/>
<rect x="874" y="281" width="3" height="5" fill="#cb4d5b"/>
<rect x="881" y="265" width="1" height="27" fill="#15110f"/>
<rect x="879" y="266" width="5" height="22" fill="#15110f"/>
<rect x="880" y="267" width="3" height="20" fill="#2f8b79"/>
<rect x="887" y="246" width="1" height="44" fill="#15110f"/>
<rect x="885" y="260" width="5" height="21" fill="#15110f"/>
<rect x="886" y="261" width="3" height="19" fill="#cb4d5b"/>
<rect x="893" y="275" width="1" height="27" fill="#15110f"/>
<rect x="891" y="284" width="5" height="1" fill="#15110f"/>
<rect x="899" y="251" width="1" height="35" fill="#15110f"/>
<rect x="897" y="252" width="5" height="32" fill="#15110f"/>
<rect x="898" y="253" width="3" height="30" fill="#2f8b79"/>
<rect x="905" y="234" width="1" height="24" fill="#15110f"/>
<rect x="903" y="237" width="5" height="18" fill="#15110f"/>
<rect x="904" y="238" width="3" height="16" fill="#2f8b79"/>
<rect x="911" y="239" width="1" height="30" fill="#15110f"/>
<rect x="909" y="246" width="5" height="5" fill="#15110f"/>
<rect x="910" y="247" width="3" height="3" fill="#cb4d5b"/>
<rect x="917" y="216" width="1" height="37" fill="#15110f"/>
<rect x="915" y="250" width="5" height="3" fill="#15110f"/>
<rect x="916" y="251" width="3" height="1" fill="#cb4d5b"/>
<rect x="922" y="245" width="1" height="16" fill="#15110f"/>
<rect x="920" y="250" width="5" height="5" fill="#15110f"/>
<rect x="921" y="251" width="3" height="3" fill="#2f8b79"/>
<rect x="928" y="241" width="1" height="24" fill="#15110f"/>
<rect x="926" y="251" width="5" height="4" fill="#15110f"/>
<rect x="927" y="252" width="3" height="2" fill="#cb4d5b"/>
<rect x="934" y="238" width="1" height="23" fill="#15110f"/>
<rect x="932" y="254" width="5" height="4" fill="#15110f"/>
<rect x="933" y="255" width="3" height="2" fill="#cb4d5b"/>
<rect x="940" y="244" width="1" height="16" fill="#15110f"/>
<rect x="938" y="257" width="5" height="3" fill="#15110f"/>
<rect x="939" y="258" width="3" height="1" fill="#2f8b79"/>
<rect x="946" y="234" width="1" height="25" fill="#15110f"/>
<rect x="944" y="252" width="5" height="5" fill="#15110f"/>
<rect x="945" y="253" width="3" height="3" fill="#2f8b79"/>
<rect x="952" y="240" width="1" height="24" fill="#15110f"/>
<rect x="950" y="244" width="5" height="7" fill="#15110f"/>
<rect x="951" y="245" width="3" height="5" fill="#cb4d5b"/>
<rect x="958" y="243" width="1" height="29" fill="#15110f"/>
<rect x="956" y="247" width="5" height="4" fill="#15110f"/>
<rect x="957" y="248" width="3" height="2" fill="#2f8b79"/>
<rect x="964" y="226" width="1" height="26" fill="#15110f"/>
<rect x="962" y="230" width="5" height="18" fill="#15110f"/>
<rect x="963" y="231" width="3" height="16" fill="#2f8b79"/>
<rect x="970" y="230" width="1" height="31" fill="#15110f"/>
<rect x="968" y="230" width="5" height="22" fill="#15110f"/>
<rect x="969" y="231" width="3" height="20" fill="#cb4d5b"/>
<rect x="976" y="191" width="1" height="44" fill="#15110f"/>
<rect x="974" y="213" width="5" height="19" fill="#15110f"/>
<rect x="975" y="214" width="3" height="17" fill="#2f8b79"/>
<rect x="982" y="198" width="1" height="34" fill="#15110f"/>
<rect x="980" y="205" width="5" height="16" fill="#15110f"/>
<rect x="981" y="206" width="3" height="14" fill="#cb4d5b"/>
</g>
</svg>
<!--/CHARTSVG-->
<!--TEXT-->
<style>
.t14{font-size:14px}.t13{font-size:13px}.t12{font-size:12px}
.b{font-weight:bold}
.pl{position:absolute;color:#fff;font-weight:bold;font-size:12px;border-radius:2px;white-space:nowrap}
.pl span{position:absolute;left:9px;line-height:1;letter-spacing:-0.3px}
.ax{position:absolute;font-size:12px;line-height:1;white-space:nowrap;color:#131722;letter-spacing:-0.25px}
.t,.ax,.pl{will-change:transform}
.sep{position:absolute;width:1px;background:#e9e9e9}
</style>
<!-- top toolbar text -->
<div class="t b" id="t_sym" style="left:84.5px;top:12.5px;font-size:13px;letter-spacing:-0.55px">USDJPY</div>
<div class="t" id="t_w" style="left:211.5px;top:12.5px;font-size:12.5px">W</div>
<div class="t" id="t_ind" style="left:328px;top:12px;font-size:14px;letter-spacing:0.05px">Indicators</div>
<div class="t" id="t_alert" style="left:508.5px;top:12px;font-size:14px;letter-spacing:0.3px">Alert</div>
<div class="t" id="t_replay" style="left:587.5px;top:12px;font-size:14px;letter-spacing:-0.55px">Replay</div>
<div class="t" id="t_unnamed" style="left:967px;top:7px;font-size:14px;letter-spacing:-0.45px">Unnamed</div>
<div class="t" id="t_save" style="left:986px;top:21.5px;font-size:10px;color:#3e63ad;letter-spacing:-0.4px">Save</div>
<div class="abs" id="publish" style="left:1220px;top:5px;width:69px;height:28px;border-radius:14px;background:#2b2b2b"></div>
<div class="t b" id="t_publish" style="left:1232.5px;top:12.5px;font-size:13px;color:#fff;letter-spacing:-0.4px">Publish</div>
<div class="sep" style="left:194px;top:8px;height:22px"></div>
<div class="sep" style="left:240px;top:8px;height:22px"></div>
<div class="sep" style="left:287px;top:8px;height:22px"></div>
<div class="sep" style="left:467px;top:8px;height:22px"></div>
<div class="sep" style="left:642px;top:8px;height:22px"></div>
<div class="sep" style="left:1059px;top:8px;height:22px"></div>
<!-- legend -->
<div class="abs" style="left:64px;top:49.5px;width:39.5px;height:17.5px;border-radius:9px;background:linear-gradient(90deg,#dbf1ec 0,#dbf1ec 50%,#fbd8e5 50%,#fbd8e5 100%)"></div>
<div class="abs" style="left:70.7px;top:53.8px;width:8.4px;height:8.4px;border-radius:4.2px;background:#1f9a80"></div>
<div class="t b" style="left:88.3px;top:49px;font-size:16.5px;color:#df4f96">≈</div>
<div class="t lg" id="t_o" style="left:112px;top:53px">O151.882</div>
<div class="t lg" id="t_h" style="left:172.5px;top:53px">H152.614</div>
<div class="t lg" id="t_l" style="left:234px;top:53px">L149.376</div>
<div class="t lg" id="t_c" style="left:294px;top:53px">C150.467</div>
<div class="t lg" id="t_chg" style="left:353px;top:53px">−0.707</div>
<div class="t lg" id="t_pct" style="left:396.5px;top:53px">(−0.47%)</div>
<style>.lg{font-size:12.5px;letter-spacing:-0.1px}</style>
<div class="t" id="t_vol" style="left:65px;top:77px;font-size:12.5px;letter-spacing:0.05px">Vol · Ticks</div>
<div class="t" id="t_volv" style="left:131.8px;top:77px;font-size:12.5px;color:#dd626b;letter-spacing:-0.1px">1.59&thinsp;M</div>
<div class="t" id="t_ema1" style="left:64.5px;top:101px;font-size:12.5px;letter-spacing:-1px">EMA</div>
<div class="t" id="t_ema1v" style="left:97px;top:101px;font-size:12.5px;letter-spacing:0.05px;color:#d6566a">148.265</div>
<div class="t" id="t_ema2" style="left:64.5px;top:125px;font-size:12.5px;letter-spacing:-1px">EMA</div>
<div class="t" id="t_ema2v" style="left:97px;top:125px;font-size:12.5px;letter-spacing:0.05px;color:#4744ae">141.129</div>
<div class="abs" style="left:65px;top:145px;width:28px;height:20px;border:1px solid #e2e2e2;border-radius:3px;background:#fff"></div>
<!-- price axis -->
<div class="ax" id="ax0" style="right:64px;top:73px">164.000</div>
<div class="ax" style="right:64px;top:115px">160.000</div>
<div class="ax" style="right:64px;top:157px">156.000</div>
<div class="ax" style="right:64px;top:199px">152.000</div>
<div class="ax" style="right:64px;top:282.5px">144.000</div>
<div class="ax" style="right:64px;top:324.5px">140.000</div>
<div class="ax" style="right:64px;top:366px">136.000</div>
<div class="ax" style="right:64px;top:408px">132.000</div>
<div class="ax" style="right:64px;top:450px">128.000</div>
<div class="ax" style="right:64px;top:492px">124.000</div>
<div class="ax" style="right:64px;top:534px">120.000</div>
<div class="ax" style="right:64px;top:576px">116.000</div>
<!-- price labels -->
<div class="pl" style="left:1130px;top:212px;width:49px;height:16.500px;background:#e0384d"><span id="pl_sym" style="left:5.5px;top:2.5px;font-size:11px;letter-spacing:-0.7px">USDJPY</span></div>
<div class="pl" style="left:1180px;top:212px;width:60px;height:30.5px;background:#e0384d"><span id="pl_a" style="top:3px">150.467</span><span id="pl_b" style="top:17px;color:#fbd6db">01:51:36</span></div>
<div class="pl" style="left:1180px;top:243px;width:56px;height:16.5px;background:#2d62f0"><span style="top:2.5px">150.000</span></div>
<div class="pl" style="left:1180px;top:260px;width:56px;height:16.5px;background:#e0384d"><span style="top:2.5px">148.265</span></div>
<div class="pl" style="left:1180px;top:310px;width:56px;height:16.5px;background:#2424dc"><span style="top:2.5px">141.129</span></div>
<div class="pl" style="left:1180px;top:560px;width:47px;height:17px;background:#e95353;border-radius:0"><span style="top:2.5px;left:8.5px">1.59&thinsp;M</span></div>
<!-- time axis -->
<div class="ax b tx" style="left:122px;top:630.5px">2023</div>
<div class="ax tx" style="left:276px;top:630.5px">Jul</div>
<div class="ax b tx" style="left:431px;top:630.5px">2024</div>
<div class="ax tx" style="left:585px;top:630.5px">Jul</div>
<div class="ax b tx" style="left:745px;top:630.5px">2025</div>
<div class="ax tx" style="left:899px;top:630.5px">Jul</div>
<div class="ax b tx" style="left:1053px;top:630.5px">2026</div>
<style>.tx{transform:translateX(-50%)}.rg{font-size:13.5px;letter-spacing:-0.6px}</style>
<!-- range bar -->
<div class="t tx rg" id="r_1D" style="left:78.0px;top:663.500px">1D</div>
<div class="t tx rg" id="r_5D" style="left:106.0px;top:663.500px">5D</div>
<div class="t tx rg" id="r_1M" style="left:134.9px;top:663.500px">1M</div>
<div class="t tx rg" id="r_3M" style="left:163.8px;top:663.500px">3M</div>
<div class="t tx rg" id="r_6M" style="left:193.0px;top:663.500px">6M</div>
<div class="t tx rg" id="r_YTD" style="left:226.1px;top:663.500px">YTD</div>
<div class="t tx rg" id="r_1Y" style="left:258.1px;top:663.500px">1Y</div>
<div class="t tx rg" id="r_5Y" style="left:285.1px;top:663.500px">5Y</div>
<div class="t tx rg" id="r_All" style="left:313.0px;top:663.500px">All</div>
<div class="sep" style="left:333px;top:659px;height:22px"></div>
<div class="t" id="t_clock" style="left:1151px;top:663px;font-size:14px;letter-spacing:-0.35px">19:08:23 UTC</div>
<!-- bottom -->
<div class="t" id="t_pine" style="left:72px;top:705px;font-size:14px">Pine Editor</div>
<div class="t" id="t_tp" style="left:172px;top:705px;font-size:14px">Trading Panel</div>
<!--EXTRAS-->
<!-- TradingView logo -->
<svg width="1294" height="731" viewBox="0 0 1294 731">
<g transform="translate(68.200 590) scale(0.806)" fill="#131313" stroke="#fff" stroke-width="2.500" paint-order="stroke" stroke-linejoin="round"><path d="M14 22H7V11H0V4h14v18zM28 22h-8l7.500-18h8L28 22z"/><circle cx="20" cy="8" r="4"/></g>
<text id="logotxt" x="104" y="607.600" font-family="Liberation Sans, sans-serif" font-weight="bold" font-size="20.500" fill="#131313" stroke="#fff" stroke-width="2.500" paint-order="stroke" stroke-linejoin="round" textLength="121.500" lengthAdjust="spacingAndGlyphs">TradingView</text>
<!-- flags -->
<circle cx="982.800" cy="583.500" r="10.200" fill="#fdf4f6" stroke="#6b2fa3" stroke-width="1.1"/>
<circle cx="988" cy="583.500" r="10.300" fill="#fdf4f6" stroke="#d9475a" stroke-width="1.1"/>
<circle cx="988" cy="583.500" r="3.800" fill="#e6536a"/>
<circle cx="988.500" cy="608.900" r="10.200" fill="#fdeef0" stroke="#d9475a" stroke-width="1.1"/>
<circle cx="986" cy="604.500" r="1" fill="#e88"/><circle cx="992" cy="608.500" r="1" fill="#e88"/><circle cx="990" cy="613" r="1" fill="#e88"/>
<clipPath id="usc"><circle cx="981.300" cy="608.900" r="8.400"/></clipPath>
<circle cx="981.300" cy="608.900" r="10.200" fill="#fff" stroke="#d9475a" stroke-width="1.1"/>
<g clip-path="url(#usc)"><rect x="971" y="598" width="22" height="22" fill="#fff"/>
<rect x="971" y="604.400" width="22" height="2.200" fill="#e46a73"/><rect x="971" y="609" width="22" height="2.200" fill="#e46a73"/><rect x="971" y="613.600" width="22" height="2.600" fill="#e46a73"/><rect x="971" y="600" width="22" height="2.200" fill="#e46a73"/>
<rect x="971" y="599" width="10.500" height="10" fill="#4f86d8"/>
<g fill="#fff"><circle cx="975" cy="603" r=".6"/><circle cx="977.500" cy="603" r=".6"/><circle cx="980" cy="603" r=".6"/><circle cx="975" cy="605.500" r=".6"/><circle cx="977.500" cy="605.500" r=".6"/><circle cx="980" cy="605.500" r=".6"/><circle cx="975" cy="608" r=".6"/><circle cx="977.500" cy="608" r=".6"/><circle cx="980" cy="608" r=".6"/></g></g>
</svg>
<!--/EXTRAS-->

<!--/TEXT-->
<!--ICONS-->
<!-- avatar -->
<div class="abs" style="left:13px;top:6px;width:26px;height:26px;border-radius:13px;background:#a27660"></div>
<div class="t" style="left:20.5px;top:10px;font-size:18px;color:#fff">T</div>
<div class="abs" style="left:31px;top:0px;width:20px;height:20px;border-radius:10px;background:#fff"></div>
<div class="abs" style="left:32px;top:1px;width:18px;height:18px;border-radius:9px;background:#e0354b"></div>
<div class="t b" style="left:35.5px;top:5px;font-size:11px;color:#fff;letter-spacing:-0.5px">11</div>
<div class="abs" style="left:9px;top:50px;width:34px;height:34px;border-radius:5px;background:#ebebeb"></div>
<svg id="icons" width="1294" height="731" viewBox="0 0 1294 731" fill="none" stroke="#1a1a1a" stroke-width="1.15" stroke-linecap="round" stroke-linejoin="round">
<!-- search -->
<circle cx="69" cy="18" r="5.2" stroke-width="1.6"/><path d="M73 22 L77 26" stroke-width="1.6"/>
<!-- plus circle -->
<circle cx="170.6" cy="19.3" r="9.2"/><path d="M166 19.3h9.2M170.6 14.7v9.2"/>
<!-- candles icon -->
<rect x="258.2" y="12.5" width="3.6" height="13"/><path d="M260 9.3v3.2M260 25.5v3.2"/>
<rect x="266.8" y="14.8" width="3.6" height="7.6"/><path d="M268.6 12v2.8M268.6 22.4v3.1"/>
<!-- indicators icon -->
<path d="M303.8 27.3v-4.6h3.6v4.6M307.4 27.3v-6.8h3.9v6.8M311.3 27.3v-10h4.6v10M303.3 27.3h16.3v-10h-3.7"/>
<path d="M303.3 16.2l4.6-4.6 4.2 2.8 7.6-3.9"/>
<!-- chevron -->
<path d="M409.4 17.5l3.8 3.3 3.8-3.3"/>
<!-- layout -->
<rect x="436.3" y="11.9" width="6" height="5.6" rx="1.3"/><rect x="446" y="11.9" width="6" height="5.6" rx="1.3"/>
<rect x="436.3" y="20.8" width="6" height="5.6" rx="1.3"/><rect x="446" y="20.8" width="6" height="5.6" rx="1.3"/>
<!-- alert -->
<path d="M495.5 26.2 A8.5 8.5 0 1 1 498.6 21.5"/>
<path d="M491.2 14.5v4.8h-3.6"/>
<path d="M481.4 13.4L485.6 9.9M495.4 9.9L499.6 13.4"/>
<path d="M492.2 25.6h8.4M496.4 21.4v8.4"/>
<!-- replay -->
<path d="M568.6 14.6v9.4l-6.3-4.7zM576.6 14.6v9.4l-6.3-4.7z"/>
<!-- undo / redo -->
<path d="M663.5 14.2l-4.3 4.3 4.3 4.3M659.4 18.5h7.4a5 5 0 0 1 5 5.3"/>
<g stroke="#b4b7bf"><path d="M705.5 14.2l4.3 4.3-4.3 4.3M709.6 18.5h-7.4a5 5 0 0 0-5 5.3"/></g>
<!-- layout square -->
<rect x="933.6" y="11.6" width="18" height="15.8" rx="2.6"/>
<path d="M1039.4 17.4l3.8 3.3 3.8-3.3"/>
<!-- quick search -->
<path d="M1081.5 12.2a7 7 0 1 0 6.6 9.2M1087 24.2l4.4 4.4"/>
<path d="M1084.6 9l-3.2 6.6h5l-2.2 5.6 5.2-8.2h-4.4l2-4z" stroke-width="1.1"/>
<!-- settings hex -->
<path d="M1111 18.9l5-8.4h10l5 8.4-5 8.4h-10z"/><circle cx="1121" cy="18.9" r="3.8"/>
<!-- fullscreen -->
<path d="M1151.4 15.5v-2.3a1.8 1.8 0 0 1 1.8-1.8h2.3M1162.2 11.4h2.3a1.8 1.8 0 0 1 1.8 1.8v2.3M1166.3 22.2v2.3a1.8 1.8 0 0 1-1.8 1.8h-2.3M1155.5 26.3h-2.3a1.8 1.8 0 0 1-1.8-1.8v-2.3"/>
<!-- camera -->
<path d="M1188.6 12.6h2.6l1.6-2.3h7.4l1.6 2.3h2.6a1.8 1.8 0 0 1 1.8 1.8v9.9a1.8 1.8 0 0 1-1.8 1.8h-15.8a1.8 1.8 0 0 1-1.8-1.8v-9.9a1.8 1.8 0 0 1 1.8-1.8z"/><circle cx="1196.6" cy="19.3" r="4.2"/>
<!-- LEFT TOOLBAR -->
<path d="M19.4 59.8v12.6l3.7-3.4 3 6.2 2.8-1.3-3-6 4.6-.4z" stroke-width="1.3"/>
<path d="M16 105.5h8.2M28.6 105.5H37"/><circle cx="26.4" cy="105.5" r="2.2"/>
<path d="M15.2 133.5H37M15.2 139.5h19M15.2 145.4H37M17.6 151.5H37"/><circle cx="36.4" cy="139.5" r="2.1" fill="#fff"/><circle cx="15.4" cy="151.5" r="2.1" fill="#fff"/>
<path d="M20.5 172.5L17.3 189.6L24.7 179.6L20.5 172.5M24.7 179.6L32.5 173.4L35.5 186.6L24.7 179.6" stroke-width="1.1"/>
<g fill="#fff" stroke-width="1.1"><circle cx="20.5" cy="172.5" r="1.9"/><circle cx="32.5" cy="173.4" r="1.9"/><circle cx="24.7" cy="179.6" r="1.9"/><circle cx="35.5" cy="186.6" r="1.9"/><circle cx="17.3" cy="189.6" r="1.9"/></g>
<path d="M18.5 211.5H36M18.5 221.4H32.4M18.5 227.7H36"/><path d="M21 219l13.4-6" stroke-dasharray="0.6 3.2" stroke-width="1.4"/>
<g fill="#fff"><circle cx="16.3" cy="211.5" r="2.1"/><circle cx="16.3" cy="221.4" r="2.1"/><circle cx="16.3" cy="227.7" r="2.1"/><circle cx="34.6" cy="221.4" r="2.1"/></g>
<path d="M14.6 265.5c3-4 4.4-10.300 10-10.300a5 5 0 0 1 4.800 5c0 2.800-2 5.300-4.600 5.300z"/>
<path d="M29.900 250.400c-1 2.600 1 5.200 2.800 5.200l6.700-6.500"/>
<path d="M19.300 289.600v-2.800h14.300v2.800M26.500 286.800v16.700M24 303.500h5"/>
<circle cx="26" cy="332.900" r="10.700"/><path d="M22.900 335.500a3.600 3.600 0 0 0 6.200 0"/><circle cx="23.200" cy="331.600" r=".7" fill="#1a1a1a" stroke-width=".6"/><circle cx="28.800" cy="331.600" r=".7" fill="#1a1a1a" stroke-width=".6"/>
<path d="M8.500 358.500h34.500M8.500 447.500h34.500M8.500 612.500h34.500" stroke="#e2e2e2" stroke-width="1"/>
<g transform="translate(26 383.700) rotate(-45)"><rect x="-13" y="-3.500" width="26" height="7"/><path d="M-9 -3.500v2.600M-4.500 -3.500v3.400M0 -3.500v2.600M4.500 -3.500v3.400M9 -3.500v2.600" stroke-width="1"/></g>
<circle cx="24.500" cy="420.500" r="8.200"/><path d="M21.200 420.500h6.600M24.500 417.200v6.600M30.400 426.400l3.600 3.500"/>
<path d="M18.300 481.700v-10.700a7.700 7.700 0 0 1 15.400 0v10.700h-5.200v-10.700a2.500 2.500 0 0 0-5 0v10.700zM18.300 477.500h5.200M28.500 477.500h5.200"/>
<path d="M15.400 516.500l.6-5 10.800-8.800a2.200 2.200 0 0 1 3.200.4l.8 1a2.200 2.200 0 0 1-.3 3.100l-10.600 8.800zM16.600 510.800l3.800 4.600M26 503.600l3.700 4.400" stroke-width="1.150"/>
<rect x="27.500" y="514.800" width="8.200" height="6.600" rx="1" fill="#fff"/><path d="M29.600 514.800v-2.300a2.200 2.200 0 0 1 4.300-.6M31.600 517.400v1.400"/>
<rect x="18.300" y="547.700" width="15.400" height="10.600" rx="1.800"/><path d="M22.600 547.700v-3.200a3.700 3.700 0 0 1 7.300-.9" /><path d="M26 551.600v2.800" stroke-width="2"/>
<path d="M15.900 583c2.400-4.600 5.600-7 9-7s6.600 2.400 9 7c-2.400 4.600-5.600 6.800-9 6.800s-6.600-2.200-9-6.800z"/><circle cx="24.900" cy="583" r="3.500"/>
<path d="M26.300 597.600c1.600-2 2.300-4.200 4.600-4.200 1.300 0 2 1 2 2s-1 2.200-2.400 2.200zM33.400 592.600c0 .9.500 1.500 1.200 1.500l2.300-2.400" stroke-width="1"/>
<path d="M17 631.300h17.900M22.300 631.300v-1.600a1.500 1.500 0 0 1 1.500-1.500h4.600a1.500 1.500 0 0 1 1.500 1.500v1.600M19.200 631.300l1.500 15a1.500 1.500 0 0 0 1.500 1.400h7.600a1.500 1.500 0 0 0 1.500-1.400l1.500-15"/>
<!-- legend collapse chevron -->
<path d="M74.800 157.400l3.900-3.700 3.900 3.700" stroke-width="1.600"/>
<!-- time axis hex -->
<path d="M1205.600 636.500l3.500-5.800h6.800l3.500 5.800-3.500 5.800h-6.800z" stroke-width="1.100"/><circle cx="1212.500" cy="636.500" r="2.200" stroke-width="1.100"/>
<!-- goto date -->
<path d="M348.500 667v-3a1.800 1.800 0 0 1 1.800-1.800h13.200a1.800 1.800 0 0 1 1.800 1.800v12a1.800 1.800 0 0 1-1.800 1.800h-6M348.500 666.800h16.800M352.800 660.300v3.500M361 660.300v3.500M346.500 673.800h8.500M352 670.600l3.200 3.200-3.200 3.200"/>
<!-- bottom-right -->
<path d="M1182.200 714.600l8.500-7.400 8.500 7.400"/>
<path d="M1218.600 709v-2.400a2.200 2.200 0 0 1 2.200-2.200h10.400a2.200 2.200 0 0 1 2.200 2.200v2.400M1233.400 714.800v2.400a2.200 2.200 0 0 1-2.200 2.200h-10.400a2.200 2.200 0 0 1-2.200-2.200v-2.400"/>
<!-- RIGHT TOOLBAR -->
<path d="M1262.600 55.500h19v22l-9.500-4.400-9.500 4.400zM1266.500 60.500h11.500M1266.500 64.400h11.500M1266.500 68.300h11.500"/>
<circle cx="1272" cy="111.600" r="10.500"/><path d="M1273 106.400v6.800h-5.500M1259.600 104.300l5-4M1284.400 104.300l-5-4"/>
<path d="M1260.600 154.900l11.400-6.400 11 6.400-11 6.300zM1260.600 160.400l11.400 6.600 11-6.600"/>
<path d="M1262.800 193.400h14.200a2.500 2.500 0 0 1 2.500 2.500v10.400a2.500 2.500 0 0 1-2.500 2.500h-12.200l-4.400 4v-16.900a2.500 2.500 0 0 1 2.400-2.500zM1279.500 201.200h1.900a2.500 2.500 0 0 1 2.500 2.500v13.300l-4.400-4.100h-7.600a3 3 0 0 1-3-3v-1"/>
<circle cx="1272" cy="511.800" r="13.600"/><circle cx="1272" cy="511.800" r="7.400"/><circle cx="1272" cy="511.800" r="1.600" fill="#1a1a1a"/><path d="M1272 511.800l9.800-9.900"/>
<rect x="1260.400" y="548.800" width="23.200" height="20.800" rx="2.600"/><path d="M1260.400 555.300h23.200"/><rect x="1264.600" y="546.400" width="2.400" height="4.800" rx="1" fill="#fff"/><rect x="1276.500" y="546.400" width="2.400" height="4.800" rx="1" fill="#fff"/>
<circle cx="1272" cy="603.800" r="16.800" fill="#2b2b2b" stroke="none"/>
<g fill="#fff" stroke="none"><rect x="1263.100" y="594.900" width="4" height="4" rx=".6"/><rect x="1270" y="594.900" width="4" height="4" rx=".6"/><rect x="1276.900" y="594.900" width="4" height="4" rx=".6"/><rect x="1263.100" y="601.800" width="4" height="4" rx=".6"/><rect x="1270" y="601.800" width="4" height="4" rx=".6"/><rect x="1276.900" y="601.800" width="4" height="4" rx=".6"/><rect x="1263.100" y="608.700" width="4" height="4" rx=".6"/><rect x="1270" y="608.700" width="4" height="4" rx=".6"/><rect x="1276.900" y="608.700" width="4" height="4" rx=".6"/></g>
<path d="M1255.500 632.800h32.500" stroke="#e2e2e2" stroke-width="1"/>
<circle cx="1262.900" cy="668.900" r="1.500"/>
<path d="M1261.3 661.8a8.9 8.9 0 0 1 8.9 8.9M1261.3 655.4a15.3 15.3 0 0 1 15.3 15.3M1261.3 649.2a21.5 21.5 0 0 1 21.5 21.5"/>
<path d="M1284.83 701.46A13.9 13.9 0 0 1 1262.7 717.13M1258.94 711.55A13.9 13.9 0 0 1 1278.4 694.46" stroke-width="1.1"/>
<path d="M1283 692.6l1.3 2.8 2.8 1.3-2.8 1.3-1.3 2.8-1.3-2.8-2.8-1.3 2.8-1.3zM1260.6 711.5l1 2 2 1-2 1-1 2-1-2-2-1 2-1z" stroke-width="1" fill="#fff"/>
<path d="M1268.600 703.400a3.400 3.400 0 1 1 5.200 2.900c-1.200.8-1.800 1.500-1.800 3" stroke-width="1.100"/><circle cx="1272" cy="713" r="1.300" stroke-width="1"/>
</svg>
<!-- corner blobs -->
<div class="abs" style="left:1286px;top:723px;width:8px;height:8px;background:radial-gradient(circle at 0 0,#fff 0,#fff 7.5px,#7a3a6a 8.5px,#4a1040 11px)"></div>
<div class="abs" style="left:0px;top:724px;width:6px;height:7px;background:radial-gradient(circle at 7px 0,#fff 0,#fff 6.5px,#5a1448 7.5px,#3a0830 9px)"></div>

<!--/ICONS-->
</body></html>
